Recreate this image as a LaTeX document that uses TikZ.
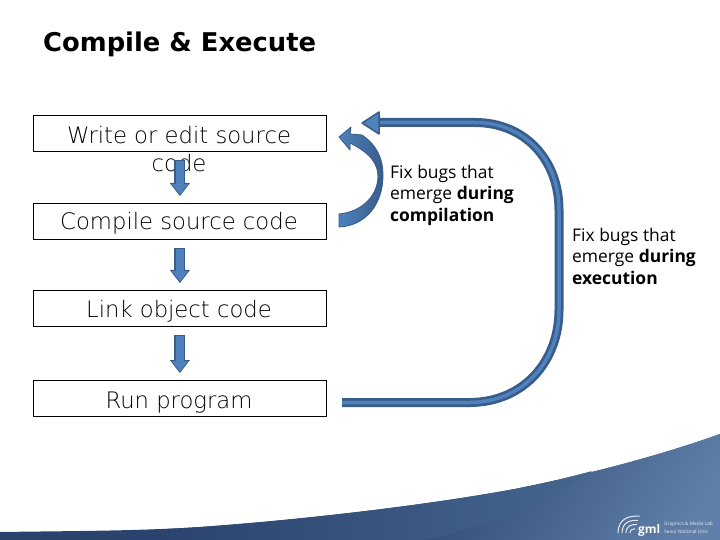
\documentclass[tikz,border=0pt]{standalone}
\usepackage{fontspec}
\setmainfont{Open Sans}
\newfontfamily\titlefont{DejaVu Sans}
\newfontfamily\boxfont{DejaVu Sans ExtraLight}
\usetikzlibrary{arrows.meta}
\definecolor{arrowblue}{HTML}{4F81BD}
\definecolor{arrowedge}{HTML}{385D8A}
\definecolor{swooshdark}{HTML}{29436D}
\definecolor{swooshlight}{HTML}{6080AA}
\definecolor{swooshband}{HTML}{46668E}
\tikzset{
  stepbox/.style={draw=black,line width=0.8bp,minimum width=293bp,minimum height=36bp,
                  inner sep=0pt,anchor=north west},
  boxtext/.style={font=\boxfont\fontsize{22.8}{28}\selectfont,anchor=base},
  fixtext/.style={font=\fontsize{17.5}{21.5}\selectfont,align=left,anchor=north west,inner sep=0pt},
  flowarrow/.style={line width=11bp,arrowedge,shorten <=8bp,shorten >=7bp,
                    -{Triangle[length=13bp,width=20bp,line width=0.8bp,fill=arrowblue]},
                    postaction={draw=arrowblue,line width=7.5bp,-,shorten <=9bp,shorten >=19bp}},
  loopline/.style={line width=9bp,arrowedge,line cap=butt,
                   postaction={draw=arrowblue,line width=3.5bp}},
  bighead/.style={draw=arrowedge,line width=1.5bp,fill=arrowblue,line join=round},
  logotext/.style={white,opacity=.85,font=\fontsize{4.8}{6}\selectfont,anchor=base west,inner sep=0pt}
}
\begin{document}
\begin{tikzpicture}[x=1bp,y=-1bp]
\useasboundingbox (0,0) rectangle (720,540);

% title
\node[font=\titlefont\bfseries\fontsize{25.9}{30}\selectfont,anchor=base west,inner sep=0pt] (title) at (43,52) {Compile \& Execute};

% background
\fill[swooshdark] (0,532) .. controls (70,531) and (140,531) .. (200,527)
  .. controls (300,520) and (430,505) .. (520,488)
  .. controls (600,472) and (670,452) .. (720,434) -- (720,540) -- (0,540) -- cycle;
\begin{scope}
  \clip (520,488) .. controls (600,472) and (670,452) .. (720,434) -- (720,540) -- (425,540) -- cycle;
  \shade[left color=swooshdark,middle color=swooshdark,right color=swooshlight,shading angle=60] (420,300) rectangle (720,600);
\end{scope}
\shade[left color=swooshdark,right color=swooshband] (150,530) .. controls (165,529) and (185,528) .. (200,527)
  .. controls (300,520) and (430,505) .. (520,488)
  .. controls (545,483) and (570,477) .. (592,471)
  .. controls (555,498) and (490,525) .. (425,540) -- (150,540) -- cycle;

% boxes
\node[stepbox] (write) at (33,115) {};
\node[stepbox] (compile) at (33,203) {};
\node[stepbox] (link) at (33,290) {};
\node[stepbox] (run) at (33,380) {};

\node[boxtext] (writetxt) at (179,144) {Write or edit source};
\node[boxtext] (codetxt) at (179,172) {code};
\node[boxtext] (compiletxt) at (179,230) {Compile source code};
\node[boxtext] (linktxt) at (179,317) {Link object code};
\node[boxtext] (runtxt) at (179,408) {Run program};

% arrows between boxes
\draw[flowarrow] (write) -- (compile);
\draw[flowarrow] (compile) -- (link);
\draw[flowarrow] (link) -- (run);

% short way back
\filldraw[bighead,line width=0.8bp,left color=arrowblue,right color=arrowedge] (339,137) -- (351,127) -- (350,134) -- (362,135)
  .. controls (378,146) and (383,160) .. (383,175)
  .. controls (383,205) and (365,226) .. (339,227) -- (339,214)
  .. controls (360,212) and (377,198) .. (378,177)
  .. controls (378,165) and (372,154) .. (350,143) -- (350,150) -- cycle;

% long way back
\coordinate (loopstart) at (342,402.5);
\coordinate (loopend) at (379,122.5);
\draw[loopline] (loopstart) -- (470,402.5) .. controls (525,402) and (559,360) .. (559,310)
  -- (559,210) .. controls (559,160) and (525,122.5) .. (475,122.5) -- (loopend);
\filldraw[bighead] (362,123) -- (379,112) -- (379,134) -- cycle;

\node[fixtext] (fixone) at (390,165) {Fix bugs that\\emerge \textbf{during}\\\textbf{compilation}};
\node[fixtext] (fixtwo) at (572,228) {Fix bugs that\\emerge \textbf{during}\\\textbf{execution}};

% logo
\begin{scope}[white,line width=1bp,opacity=.85]
  \foreach \r in {4,8,12,16}{
    \draw (634-\r,533) .. controls (634-\r,533-\r*.9) and (634-\r*.3,533-\r*1.1) .. (634+\r*.35,533-\r*1.05);
  }
\end{scope}
\node[white,font=\bfseries\fontsize{12}{13}\selectfont,anchor=base west,inner sep=0pt] (gml) at (638,533) {gml};
\node[logotext] (labname) at (664,525.5) {Graphics \& Media Lab};
\node[logotext] (labuniv) at (664,533) {Seoul National Univ};
\end{tikzpicture}
\end{document}
